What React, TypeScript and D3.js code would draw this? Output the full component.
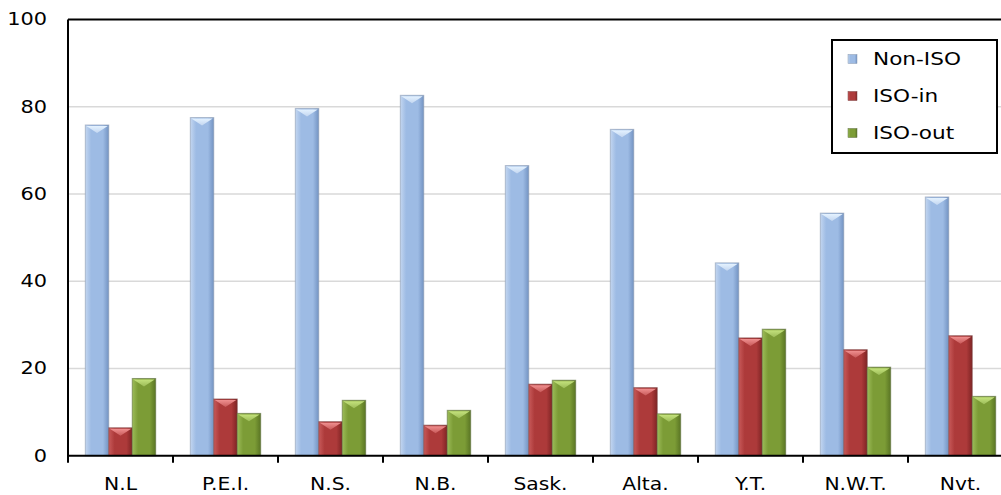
import React from "react";
import * as d3 from "d3";

const categories = ["N.L", "P.E.I.", "N.S.", "N.B.", "Sask.", "Alta.", "Y.T.", "N.W.T.", "Nvt."];
const seriesNames = ["Non-ISO", "ISO-in", "ISO-out"];
const nonIso = [75.8, 77.5, 79.6, 82.6, 66.5, 74.8, 44.2, 55.6, 59.3];
const isoIn = [6.4, 13.0, 7.8, 7.0, 16.4, 15.6, 27.0, 24.3, 27.5];
const isoOut = [17.7, 9.7, 12.7, 10.4, 17.3, 9.6, 29.0, 20.3, 13.6];
const yTicks = [0, 20, 40, 60, 80, 100];

const palettes = [
  { light: "#c3d6f0", mid: "#9dbbe4", dark: "#7393c2", cap: "#e4f2ff", edge: "#8a9ab0" },
  { light: "#c85a5a", mid: "#ad3a3a", dark: "#7f2424", cap: "#f09090", edge: "#7a4040" },
  { light: "#9cbc58", mid: "#7c9c36", dark: "#5a7524", cap: "#c4e27c", edge: "#5e6e40" },
];

const W = 1001;
const H = 495;
const left = 68;
const step = 105;
const font = "Verdana, 'DejaVu Sans', sans-serif";
const sx = 1.16;

export default function App() {
  const values = [nonIso, isoIn, isoOut];
  const x0 = d3.scaleBand<string>().domain(categories).range([left, left + step * categories.length]).padding(0);
  const x1 = d3.scaleBand<string>().domain(seriesNames).range([17.3, step - 17.3]).padding(0);
  const y = d3.scaleLinear().domain([0, 100]).range([455.7, 19.4]);
  const bw = x1.bandwidth();

  return (
    <svg width={W} height={H} style={{ position: "absolute", left: 0, top: 0, background: "#fff" }}>
      <defs>
        {palettes.map((p, i) => (
          <linearGradient key={i} id={`g${i}`} x1="0" x2="1" y1="0" y2="0">
            <stop offset="0" stopColor={p.light} />
            <stop offset="0.25" stopColor={p.mid} />
            <stop offset="0.75" stopColor={p.mid} />
            <stop offset="1" stopColor={p.dark} />
          </linearGradient>
        ))}
        {palettes.map((p, i) => (
          <linearGradient key={i} id={`c${i}`} x1="0" x2="0" y1="0" y2="1">
            <stop offset="0" stopColor={p.cap} />
            <stop offset="1" stopColor={p.light} />
          </linearGradient>
        ))}
      </defs>

      {/* horizontal gridlines */}
      {yTicks.filter((t) => t > 0 && t < 100).map((t) => (
        <line key={t} x1={left} x2={W} y1={y(t)} y2={y(t)} stroke="#d9d9d9" strokeWidth={1.5} />
      ))}

      {/* y tick labels */}
      {yTicks.map((t) => (
        <text
          key={t}
          transform={`translate(47,${y(t)}) scale(${sx},1)`}
          textAnchor="end"
          dominantBaseline="central"
          fontFamily={font}
          fontSize={18}
          fill="#000"
        >
          {t}
        </text>
      ))}

      {/* bars */}
      {categories.map((c, ci) => (
        <g key={c} transform={`translate(${x0(c)},0)`}>
          {seriesNames.map((s, si) => {
            const v = values[si][ci];
            const bx = x1(s)!;
            const top = y(v);
            const base = y(0);
            const capH = Math.min(bw * 0.34, base - top);
            return (
              <g key={s}>
                <rect x={bx} y={top} width={bw} height={base - top} fill={`url(#g${si})`} stroke={palettes[si].edge} strokeOpacity={0.6} strokeWidth={1} />
                <polygon
                  points={`${bx + 1},${top + 1} ${bx + bw - 1},${top + 1} ${bx + bw / 2},${top + capH}`}
                  fill={`url(#c${si})`}
                />
              </g>
            );
          })}
        </g>
      ))}

      {/* frame: top and left */}
      <line x1={left} x2={W} y1={y(100)} y2={y(100)} stroke="#000" strokeWidth={2} />
      <line x1={left} x2={left} y1={y(100)} y2={y(0)} stroke="#000" strokeWidth={2} />
      {/* x axis */}
      <line x1={left - 1} x2={W} y1={y(0)} y2={y(0)} stroke="#000" strokeWidth={2} />
      {d3.range(categories.length + 1).map((i) => (
        <line key={i} x1={left + i * step} x2={left + i * step} y1={y(0)} y2={y(0) + 7} stroke="#000" strokeWidth={2} />
      ))}
      {categories.map((c) => (
        <text
          key={c}
          transform={`translate(${x0(c)! + step / 2},490) scale(${sx},1)`}
          textAnchor="middle"
          fontFamily={font}
          fontSize={17.5}
          fill="#000"
        >
          {c}
        </text>
      ))}

      {/* legend */}
      <rect x={832} y={40} width={165} height={113} fill="#fff" stroke="#000" strokeWidth={2} />
      {seriesNames.map((s, i) => {
        const ry = 59 + i * 37;
        return (
          <g key={s}>
            <rect x={848} y={ry - 4.5} width={9} height={9} fill={`url(#g${i})`} stroke={palettes[i].edge} strokeWidth={0.5} />
            <text
              transform={`translate(873,${ry}) scale(1.2,1)`}
              dominantBaseline="central"
              fontFamily={font}
              fontSize={18}
              fill="#000"
            >
              {s}
            </text>
          </g>
        );
      })}
    </svg>
  );
}
